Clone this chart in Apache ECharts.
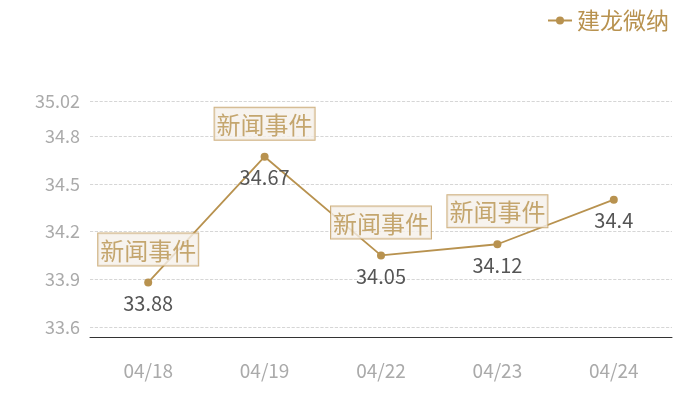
<!DOCTYPE html>
<html>
<head>
<meta charset="utf-8">
<script src="https://cdn.jsdelivr.net/npm/echarts@6/dist/echarts.min.js"></script>
<style>
  html, body { margin: 0; padding: 0; background: #fff; }
  #main { width: 700px; height: 400px; }
</style>
</head>
<body>
<div id="main"></div>
<script>
// 日期、收盘价、新闻事件所在日期
var dates = ['04/18', '04/19', '04/22', '04/23', '04/24'];
var prices = [33.88, 34.67, 34.05, 34.12, 34.4];
var eventDates = ['04/18', '04/19', '04/22', '04/23'];
var eventText = '新闻事件';

var goldColor = '#b8924f';
var fontName = 'Noto Sans CJK SC';

// 新闻事件点：取对应日期的价格
var eventData = [];
for (var i = 0; i < eventDates.length; i++) {
    var idx = dates.indexOf(eventDates[i]);
    eventData.push([eventDates[i], prices[idx]]);
}

var myChart = echarts.init(document.getElementById('main'));
var option = {
    animation: false,
    textStyle: { fontFamily: fontName },
    legend: {
        data: ['建龙微纳'],
        right: 26,
        top: 4,
        itemWidth: 24,
        itemHeight: 10,
        itemGap: 6,
        textStyle: { color: goldColor, fontSize: 23, fontFamily: fontName }
    },
    grid: { left: 90, right: 28, top: 101, bottom: 73 },
    xAxis: {
        type: 'category',
        data: dates,
        offset: 10,
        axisLine: { lineStyle: { color: '#333', width: 1 } },
        axisTick: { show: false },
        axisLabel: { color: '#aaa', fontSize: 19, margin: 24, fontFamily: fontName }
    },
    yAxis: {
        type: 'value',
        min: 33.6,
        max: 35.02,
        interval: 0.3,
        axisLine: { show: false },
        axisTick: { show: false },
        axisLabel: { color: '#aaa', fontSize: 18, margin: 10, fontFamily: fontName },
        splitLine: { lineStyle: { color: '#ccc', type: 'dashed', width: 0.8 } }
    },
    series: [
        {
            name: '建龙微纳',
            type: 'line',
            data: prices,
            symbol: 'circle',
            symbolSize: 8,
            itemStyle: { color: goldColor },
            lineStyle: { color: goldColor, width: 1.8 },
            label: {
                show: true,
                position: 'bottom',
                distance: 7,
                color: '#555',
                fontSize: 20,
                fontFamily: fontName
            },
            z: 2
        },
        {
            name: 'event',
            type: 'scatter',
            data: eventData,
            symbolSize: 0,
            silent: true,
            label: {
                show: true,
                position: 'top',
                distance: 17,
                formatter: eventText,
                color: goldColor,
                fontSize: 24,
                fontFamily: fontName,
                backgroundColor: '#f5f0ea',
                borderColor: '#c39d60',
                borderWidth: 1,
                padding: [5, 2, 3, 2]
            },
            z: 3
        }
    ]
};
myChart.setOption(option);
</script>
</body>
</html>
